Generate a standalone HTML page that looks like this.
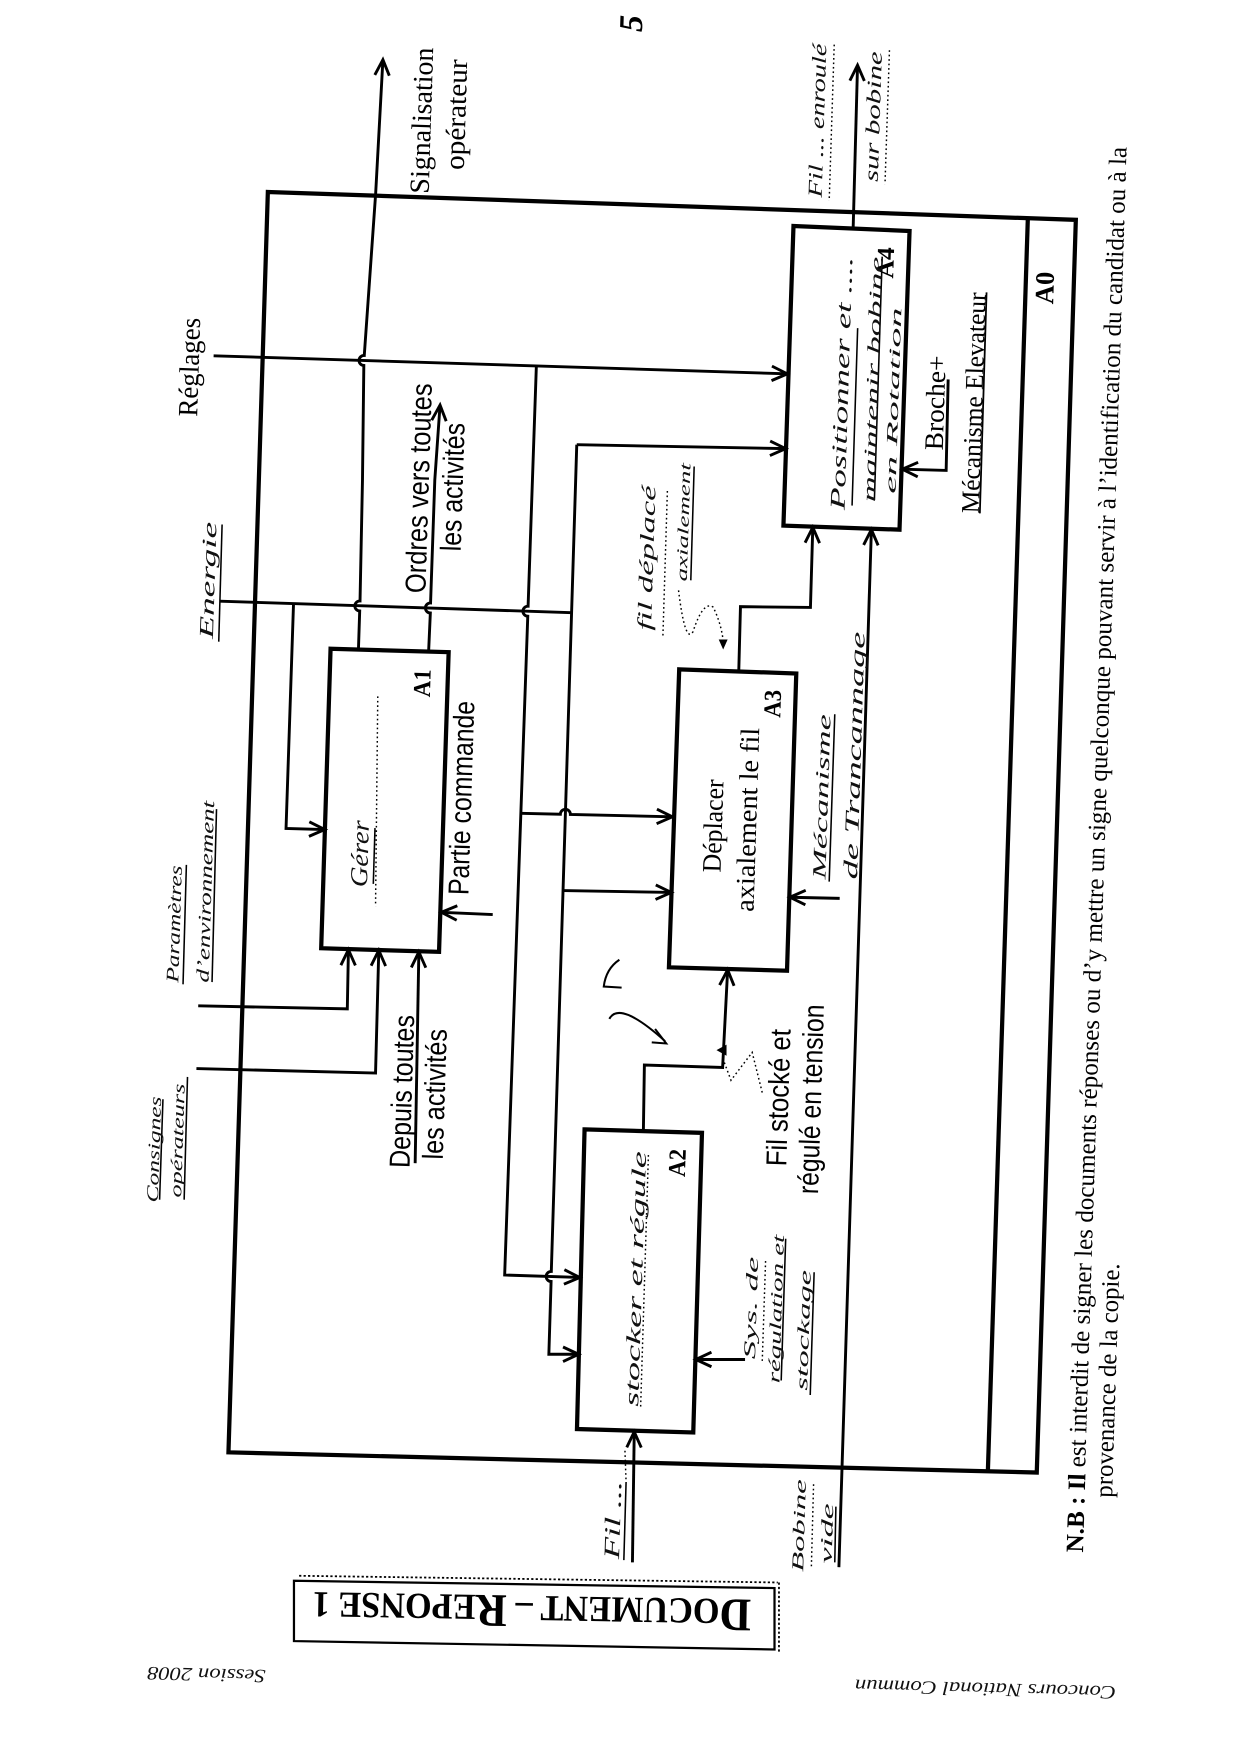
<!DOCTYPE html>
<html><head><meta charset="utf-8"><style>
html,body{margin:0;padding:0;background:#fff;}
svg{display:block;}
text{fill:#000;text-anchor:middle;dominant-baseline:central;}
.r{font-family:"Liberation Serif",serif;}
.sn{font-family:"Liberation Sans",sans-serif;}
.h{font-family:"Liberation Serif",serif;font-style:italic;fill:#111;}
.b{font-family:"Liberation Serif",serif;font-weight:bold;}
</style></head><body>
<svg width="1240" height="1754" viewBox="0 0 1111.1 1571.7" xmlns="http://www.w3.org/2000/svg">
<defs>
<marker id="a" viewBox="-16 -10 20 20" refX="0" refY="0" markerWidth="20" markerHeight="20" markerUnits="userSpaceOnUse" orient="auto"><path d="M-14,-6.5 L0,0 L-14,6.5" fill="none" stroke="#000" stroke-width="2.6"/></marker>
</defs>
<rect x="0" y="0" width="1111.1" height="1571.7" fill="#fff"/>

<!-- frame A0 -->
<g fill="none" stroke="#000" stroke-width="3.8">
<polygon points="240,172 964,197 929,1319.5 204.7,1301.4"/>
<line x1="921" y1="195.5" x2="885.2" y2="1318"/>
<!-- boxes -->
<polygon points="296.2,581.3 402,584.4 393.4,852.9 287.8,849.7"/>
<polygon points="523.8,1012 629,1015.1 621.2,1283.6 517,1280.5"/>
<polygon points="608.6,599.8 713.5,603.5 705.2,869.8 599.4,866.8"/>
<polygon points="711,202.5 815,207 806,474.6 702,471"/>
</g>

<!-- connectors -->
<g fill="none" stroke="#000" stroke-width="2.6">
<path d="M321.2,581.3 L322.3,547.5 A4.5,4.5 0 0 1 322.6,538.5 L324.8,430 L326,327.5 A4.5,4.5 0 0 1 326.4,318.5 L336.6,173.5 L343.1,53.5" marker-end="url(#a)"/>
<path d="M384.1,582.9 L385.6,549.3 A4.5,4.5 0 0 1 385.8,540.3 L389.6,430 L394.3,363" marker-end="url(#a)"/>
<path d="M191.4,318.8 L705.5,335" marker-end="url(#a)"/>
<path d="M480.6,328 L473.2,543.2 A4.5,4.5 0 0 0 472.9,552.2 L452.2,1142.5 L519.5,1144.7" marker-end="url(#a)"/>
<path d="M466.8,728.8 L502.1,729.6 A4.5,4.5 0 0 1 511.1,729.8 L602.5,731.9" marker-end="url(#a)"/>
<path d="M516.8,398.5 L704,402" marker-end="url(#a)"/>
<path d="M516.8,398.5 L494,1139.3 A4.5,4.5 0 0 0 493.8,1148.3 L491.8,1213.5 L518.5,1213.5" marker-end="url(#a)"/>
<path d="M504.5,798 L601.5,799.7" marker-end="url(#a)"/>
<path d="M196.8,538.7 L512.2,549"/>
<path d="M263,541 L256.3,742.4 L291,743.3" marker-end="url(#a)"/>
<path d="M177.6,901.3 L311.2,904 L312.2,851" marker-end="url(#a)"/>
<path d="M176,957.5 L336.5,961.5 L339.4,851.5" marker-end="url(#a)"/>
<path d="M372,1042.3 L375.3,853" marker-end="url(#a)"/>
<path d="M441.5,819.5 L395.5,817.5" marker-end="url(#a)"/>
<path d="M662,600.5 L663.5,543.6 L726.2,544.3 L728.3,472.5" marker-end="url(#a)"/>
<path d="M751.7,1404.3 L780.8,474.5" marker-end="url(#a)"/>
<path d="M752.4,805 L707.8,804" marker-end="url(#a)"/>
<path d="M576.5,1013.5 L577.4,954.3 L647.5,956.5 L652,869" marker-end="url(#a)"/>
<path d="M667.6,1218.2 L623.5,1218.2" marker-end="url(#a)"/>
<path d="M566.7,1400 L568.3,1283" marker-end="url(#a)"/>
<path d="M849.6,340 L847.8,421.5 L808.5,420.4" marker-end="url(#a)"/>
<path d="M764.5,203.7 L768.4,58.4" marker-end="url(#a)"/>
</g>

<!-- underlines -->
<g fill="none" stroke="#000" stroke-width="1.4">
<line x1="884" y1="262" x2="878" y2="460" stroke-width="1.6"/>
<line x1="199" y1="470" x2="196" y2="575"/>
<line x1="167" y1="775" x2="164" y2="882"/>
<line x1="194" y1="725" x2="190" y2="880"/>
<line x1="146" y1="985" x2="143" y2="1075"/>
<line x1="168" y1="965" x2="165" y2="1075"/>
<line x1="336" y1="742" x2="334.5" y2="792"/>
<line x1="768.5" y1="294" x2="763.5" y2="453"/>
<line x1="790.5" y1="230" x2="783.5" y2="448"/>
<line x1="622" y1="418" x2="619" y2="520"/>
<line x1="748" y1="640" x2="743" y2="790"/>
<line x1="704" y1="1110" x2="700" y2="1237"/>
<line x1="729.5" y1="1140" x2="726" y2="1250"/>
<line x1="561" y1="1328" x2="559" y2="1398"/>
<line x1="749" y1="1350" x2="748" y2="1400"/>
</g>
<g fill="none" stroke="#000" stroke-width="1.3" stroke-dasharray="1.5 2.5">
<line x1="338.5" y1="624" x2="336.5" y2="812"/>
<line x1="581" y1="1035" x2="574" y2="1262"/>
<line x1="747.5" y1="40" x2="743" y2="180"/>
<line x1="797" y1="45" x2="793" y2="165"/>
<line x1="598" y1="440" x2="594" y2="570"/>
<line x1="686" y1="1130" x2="683" y2="1220"/>
<line x1="560" y1="1300" x2="561" y2="1328"/>
<line x1="729" y1="1330" x2="727" y2="1405"/>
<path d="M608,529 Q614,578 621,566 Q630,538 639,544 Q646,558 648,574"/>
<path d="M683,979 L674,943 L655,968 L649,952"/>
</g>
<polygon points="644,573 652,573 648,582" fill="#000"/>
<polygon points="642,941 651,936 651,946" fill="#000"/>
<!-- handwritten marks -->
<g fill="none" stroke="#000" stroke-width="1.8">
<path d="M555,860 Q543,868 541,884 L557,885"/>
<path d="M546,913 Q555,896 596,933"/>
<path d="M587,922 L597,935 L584,934"/>
</g>

<!-- printed labels -->
<text class="b" transform="translate(566,21) rotate(-88.2)" font-size="30" font-style="italic">5</text>
<text class="r" transform="translate(378.5,108) rotate(-88.2)" font-size="25" textLength="131" lengthAdjust="spacingAndGlyphs">Signalisation</text>
<text class="r" transform="translate(409.5,102.7) rotate(-88.2)" font-size="25" textLength="99" lengthAdjust="spacingAndGlyphs">opérateur</text>
<text class="r" transform="translate(170.4,329) rotate(-88.2)" font-size="25" textLength="88.6" lengthAdjust="spacingAndGlyphs">Réglages</text>
<text class="sn" transform="translate(376,437.5) rotate(-88.2)" font-size="26" textLength="188" lengthAdjust="spacingAndGlyphs">Ordres vers toutes</text>
<text class="sn" transform="translate(406.5,436.5) rotate(-88.2)" font-size="26" textLength="115" lengthAdjust="spacingAndGlyphs">les activités</text>
<text class="sn" transform="translate(414.3,715) rotate(-88.2)" font-size="26" textLength="174" lengthAdjust="spacingAndGlyphs">Partie commande</text>
<text class="sn" transform="translate(361,978) rotate(-88.2)" font-size="26" textLength="137" lengthAdjust="spacingAndGlyphs">Depuis toutes</text>
<text class="sn" transform="translate(390.5,980.5) rotate(-88.2)" font-size="26" textLength="117" lengthAdjust="spacingAndGlyphs">les activités</text>
<text class="r" transform="translate(638.9,740) rotate(-88.2)" font-size="24" textLength="83.4" lengthAdjust="spacingAndGlyphs">Déplacer</text>
<text class="r" transform="translate(669.7,734.5) rotate(-88.2)" font-size="24" textLength="165" lengthAdjust="spacingAndGlyphs">axialement le fil</text>
<text class="sn" transform="translate(698.4,983.6) rotate(-88.2)" font-size="26" textLength="123" lengthAdjust="spacingAndGlyphs">Fil stocké et</text>
<text class="sn" transform="translate(727.6,985) rotate(-88.2)" font-size="26" textLength="170" lengthAdjust="spacingAndGlyphs">régulé en tension</text>
<text class="r" transform="translate(838,361) rotate(-88.2)" font-size="24" textLength="85" lengthAdjust="spacingAndGlyphs">Broche+</text>
<text class="r" transform="translate(872.5,361) rotate(-88.2)" font-size="23" textLength="198" lengthAdjust="spacingAndGlyphs">Mécanisme Elevateur</text>
<text class="b" transform="translate(378.9,612.2) rotate(-88.2)" font-size="22" textLength="25" lengthAdjust="spacingAndGlyphs">A1</text>
<text class="b" transform="translate(607.4,1042.1) rotate(-88.2)" font-size="22" textLength="25" lengthAdjust="spacingAndGlyphs">A2</text>
<text class="b" transform="translate(692.8,630.6) rotate(-88.2)" font-size="22" textLength="25" lengthAdjust="spacingAndGlyphs">A3</text>
<text class="b" transform="translate(794,235.5) rotate(-88.2)" font-size="22" textLength="28" lengthAdjust="spacingAndGlyphs">A4</text>
<text class="b" transform="translate(936,258) rotate(-88.2)" font-size="24" textLength="29" lengthAdjust="spacingAndGlyphs">A0</text>
<text class="r" transform="translate(983,761.3) rotate(-88.2)" font-size="22.5" textLength="1260" lengthAdjust="spacingAndGlyphs"><tspan font-weight="bold">N.B : Il</tspan> est interdit de signer les documents réponses ou d’y mettre un signe quelconque pouvant servir à l’identification du candidat ou à la</text>
<text class="r" transform="translate(993,1237) rotate(-88.2)" font-size="22.5" textLength="210" lengthAdjust="spacingAndGlyphs">provenance de la copie.</text>

<!-- handwritten labels -->
<text class="h" transform="translate(187,520) rotate(-88.2)" font-size="18" textLength="105" lengthAdjust="spacingAndGlyphs">Energie</text>
<text class="h" transform="translate(156,828) rotate(-88.2)" font-size="16" textLength="105" lengthAdjust="spacingAndGlyphs">Paramètres</text>
<text class="h" transform="translate(184,799) rotate(-88.2)" font-size="16" textLength="163" lengthAdjust="spacingAndGlyphs">d’environnement</text>
<text class="h" transform="translate(138,1030) rotate(-88.2)" font-size="15" textLength="95" lengthAdjust="spacingAndGlyphs">Consignes</text>
<text class="h" transform="translate(159,1022) rotate(-88.2)" font-size="15" textLength="102" lengthAdjust="spacingAndGlyphs">opérateurs</text>
<text class="h" transform="translate(323,765) rotate(-88.2)" font-size="22" textLength="60" lengthAdjust="spacingAndGlyphs">Gérer</text>
<text class="h" transform="translate(570,1146) rotate(-88.2)" font-size="18" textLength="229" lengthAdjust="spacingAndGlyphs">stocker et régule</text>
<text class="h" transform="translate(754,343.5) rotate(-88.2)" font-size="19" textLength="227" lengthAdjust="spacingAndGlyphs">Positionner et ....</text>
<text class="h" transform="translate(782,340) rotate(-88.2)" font-size="16" textLength="220" lengthAdjust="spacingAndGlyphs">maintenir bobine</text>
<text class="h" transform="translate(801,359) rotate(-88.2)" font-size="14" textLength="167" lengthAdjust="spacingAndGlyphs">en Rotation</text>
<text class="h" transform="translate(733,108) rotate(-88.2)" font-size="18" textLength="138" lengthAdjust="spacingAndGlyphs">Fil ... enroulé</text>
<text class="h" transform="translate(783,104.5) rotate(-88.2)" font-size="18" textLength="117" lengthAdjust="spacingAndGlyphs">sur bobine</text>
<text class="h" transform="translate(580,500) rotate(-88.2)" font-size="18" textLength="130" lengthAdjust="spacingAndGlyphs">fil déplacé</text>
<text class="h" transform="translate(613,468) rotate(-88.2)" font-size="14" textLength="106" lengthAdjust="spacingAndGlyphs">axialement</text>
<text class="h" transform="translate(737,714) rotate(-88.2)" font-size="17" textLength="148" lengthAdjust="spacingAndGlyphs">Mécanisme</text>
<text class="h" transform="translate(766,677) rotate(-88.2)" font-size="18" textLength="222" lengthAdjust="spacingAndGlyphs">de Trancannage</text>
<text class="h" transform="translate(673,1172) rotate(-88.2)" font-size="15" textLength="92" lengthAdjust="spacingAndGlyphs">Sys. de</text>
<text class="h" transform="translate(695.5,1173) rotate(-88.2)" font-size="15" textLength="133" lengthAdjust="spacingAndGlyphs">régulation et</text>
<text class="h" transform="translate(720,1192) rotate(-88.2)" font-size="15" textLength="108" lengthAdjust="spacingAndGlyphs">stockage</text>
<text class="h" transform="translate(549,1362) rotate(-88.2)" font-size="20" textLength="70" lengthAdjust="spacingAndGlyphs">Fil ...</text>
<text class="h" transform="translate(716,1367) rotate(-88.2)" font-size="15" textLength="83" lengthAdjust="spacingAndGlyphs">Bobine</text>
<text class="h" transform="translate(741,1374) rotate(-88.2)" font-size="15" textLength="54" lengthAdjust="spacingAndGlyphs">vide</text>

<!-- document box -->
<polygon points="263.4,1416.5 694,1423 694,1478 263.4,1470.5" fill="none" stroke="#000" stroke-width="2"/>
<line x1="268" y1="1412" x2="697" y2="1418" stroke="#000" stroke-width="1.6" stroke-dasharray="2 2"/>
<line x1="698" y1="1418" x2="698" y2="1480" stroke="#000" stroke-width="1.6" stroke-dasharray="2 2"/>
<text class="b" style="dominant-baseline:auto" transform="translate(476.5,1444) rotate(181)" y="14" textLength="393" lengthAdjust="spacingAndGlyphs"><tspan font-size="42">D</tspan><tspan font-size="33">OCUMENT – </tspan><tspan font-size="42">R</tspan><tspan font-size="33">EPONSE 1</tspan></text>
<text class="h" transform="translate(185,1500) rotate(181.5)" font-size="17" textLength="106" lengthAdjust="spacingAndGlyphs">Session 2008</text>
<text class="h" transform="translate(883,1513) rotate(181.5)" font-size="17" textLength="234" lengthAdjust="spacingAndGlyphs">Concours National Commun</text>
</svg>
</body></html>
